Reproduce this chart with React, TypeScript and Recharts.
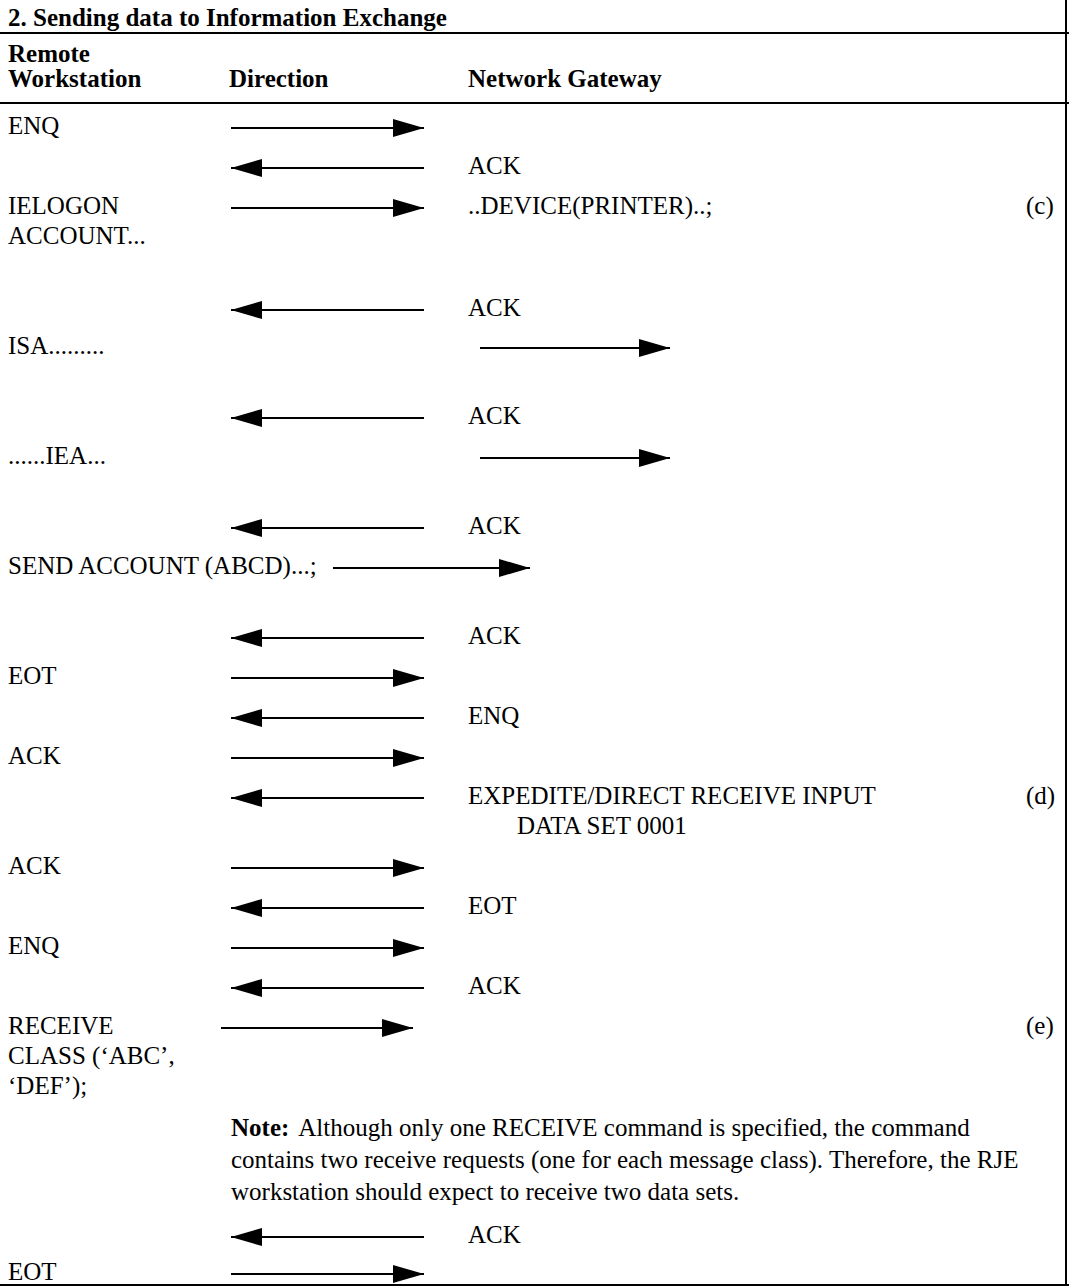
import { ReferenceLine, Scatter, ScatterChart, XAxis, YAxis } from "recharts";

const FONT = '"Liberation Serif", "Times New Roman", serif';
const W = 1069;
const H = 1286;

// vertical axis = message sequence (one step per exchanged line)
const STEP_DOMAIN: [number, number] = [-2.2, 29.95];

// table columns
const COL_WS = 8;
const COL_DIR = 229;
const COL_GW = 468;
const COL_GW_INDENT = 517;
const COL_REF = 1026;
const RIGHT_EDGE = 1066;

const SPANS: Record<string, [number, number]> = {
  dir: [231, 424],
  gw: [480, 670],
  send: [333, 530],
  receive: [221, 413],
};

const title = "2. Sending data to Information Exchange";
const headerLabels = ["Remote", "Workstation", "Direction", "Network Gateway"];
const headerSteps = [-0.8, -0.175, -0.175, -0.175];
const ruleSteps = [-1.375, 0.375, 29.925];

const wsLabels = [
  "ENQ",
  "IELOGON",
  "ACCOUNT...",
  "ISA.........",
  "......IEA...",
  "SEND ACCOUNT (ABCD)...;",
  "EOT",
  "ACK",
  "ACK",
  "ENQ",
  "RECEIVE",
  "CLASS (\u2018ABC\u2019,",
  "\u2018DEF\u2019);",
  "EOT",
];
const wsSteps = [1, 3, 3.75, 6.5, 9.25, 12, 14.75, 16.75, 19.5, 21.5, 23.5, 24.25, 25, 29.65];

const gwLabels = [
  "ACK",
  "..DEVICE(PRINTER)..;",
  "ACK",
  "ACK",
  "ACK",
  "ACK",
  "ENQ",
  "EXPEDITE/DIRECT RECEIVE INPUT",
  "EOT",
  "ACK",
  "ACK",
];
const gwSteps = [2, 3, 5.55, 8.25, 11, 13.75, 15.75, 17.75, 20.5, 22.5, 28.725];
const gwIndentLabels = ["DATA SET 0001"];
const gwIndentSteps = [18.5];

const refLabels = ["(c)", "(d)", "(e)"];
const refSteps = [3, 17.75, 23.5];

const arrowSteps = [1, 2, 3, 5.55, 6.5, 8.25, 9.25, 11, 12, 13.75, 14.75, 15.75, 16.75, 17.75, 19.5, 20.5, 21.5, 22.5, 23.5, 28.725, 29.65];
const arrowDirs = ["R", "L", "R", "L", "R", "L", "R", "L", "R", "L", "R", "L", "R", "L", "R", "L", "R", "L", "R", "L", "R"];
const arrowSpans = ["dir", "dir", "dir", "dir", "gw", "dir", "gw", "dir", "send", "dir", "dir", "dir", "dir", "dir", "dir", "dir", "dir", "dir", "receive", "dir", "dir"];

const noteLines = [
  "Although only one RECEIVE command is specified, the command",
  "contains two receive requests (one for each message class). Therefore, the RJE",
  "workstation should expect to receive two data sets.",
];
const noteSteps = [26.05, 26.85, 27.65];

const toPoints = (labels: string[], steps: number[], x: number) =>
  labels.map((label, i) => ({ x, y: steps[i], label }));

const textShape = (bold: boolean) => (props: any) => (
  <text
    x={props.cx}
    y={props.cy + 6}
    fontFamily={FONT}
    fontSize={25}
    fontWeight={bold ? "bold" : "normal"}
    fill="#000"
  >
    {props.payload.label}
  </text>
);

const noteShape = (props: any) => (
  <text x={props.cx} y={props.cy + 6} fontFamily={FONT} fontSize={25} fill="#000">
    {props.payload.first ? (
      <>
        <tspan fontWeight="bold">Note:</tspan>
        <tspan dx={9}>{props.payload.label}</tspan>
      </>
    ) : (
      props.payload.label
    )}
  </text>
);

const headShape = (props: any) => {
  const { cx, cy } = props;
  const d = props.payload.dir === "R" ? -1 : 1;
  const len = 31;
  const half = 9;
  return (
    <polygon
      points={`${cx},${cy} ${cx + d * len},${cy - half} ${cx + d * len},${cy + half}`}
      fill="#000"
    />
  );
};

export default function App() {
  const arrows = arrowSteps.map((t, i) => {
    const [a, b] = SPANS[arrowSpans[i]];
    const dir = arrowDirs[i];
    return { t, dir, from: dir === "R" ? a : b, to: dir === "R" ? b : a };
  });
  const heads = arrows.map((a) => ({ x: a.to, y: a.t, dir: a.dir }));

  const headerPts = [
    { x: COL_WS, y: headerSteps[0], label: headerLabels[0] },
    { x: COL_WS, y: headerSteps[1], label: headerLabels[1] },
    { x: COL_DIR, y: headerSteps[2], label: headerLabels[2] },
    { x: COL_GW, y: headerSteps[3], label: headerLabels[3] },
    { x: COL_WS, y: -1.7, label: title },
  ];
  const notePts = noteLines.map((label, i) => ({
    x: 231,
    y: noteSteps[i],
    label,
    first: i === 0,
  }));

  return (
    <div style={{ position: "absolute", left: 0, top: 0, background: "#fff" }}>
      <ScatterChart width={W} height={H} margin={{ top: 0, right: 0, bottom: 0, left: 0 }}>
        <XAxis type="number" dataKey="x" domain={[0, W]} allowDataOverflow hide />
        <YAxis type="number" dataKey="y" domain={STEP_DOMAIN} allowDataOverflow reversed hide />
        {ruleSteps.map((t) => (
          <ReferenceLine key={t} y={t} stroke="#000" strokeWidth={2} ifOverflow="visible" />
        ))}
        <ReferenceLine x={RIGHT_EDGE} stroke="#000" strokeWidth={2} ifOverflow="visible" />
        {arrows.map((a, i) => (
          <ReferenceLine
            key={i}
            segment={[
              { x: a.from, y: a.t },
              { x: a.to, y: a.t },
            ]}
            stroke="#000"
            strokeWidth={2}
            ifOverflow="visible"
          />
        ))}
        <Scatter data={heads} shape={headShape} isAnimationActive={false} />
        <Scatter data={headerPts} shape={textShape(true)} isAnimationActive={false} />
        <Scatter data={toPoints(wsLabels, wsSteps, COL_WS)} shape={textShape(false)} isAnimationActive={false} />
        <Scatter data={toPoints(gwLabels, gwSteps, COL_GW)} shape={textShape(false)} isAnimationActive={false} />
        <Scatter
          data={toPoints(gwIndentLabels, gwIndentSteps, COL_GW_INDENT)}
          shape={textShape(false)}
          isAnimationActive={false}
        />
        <Scatter data={toPoints(refLabels, refSteps, COL_REF)} shape={textShape(false)} isAnimationActive={false} />
        <Scatter data={notePts} shape={noteShape} isAnimationActive={false} />
      </ScatterChart>
    </div>
  );
}
